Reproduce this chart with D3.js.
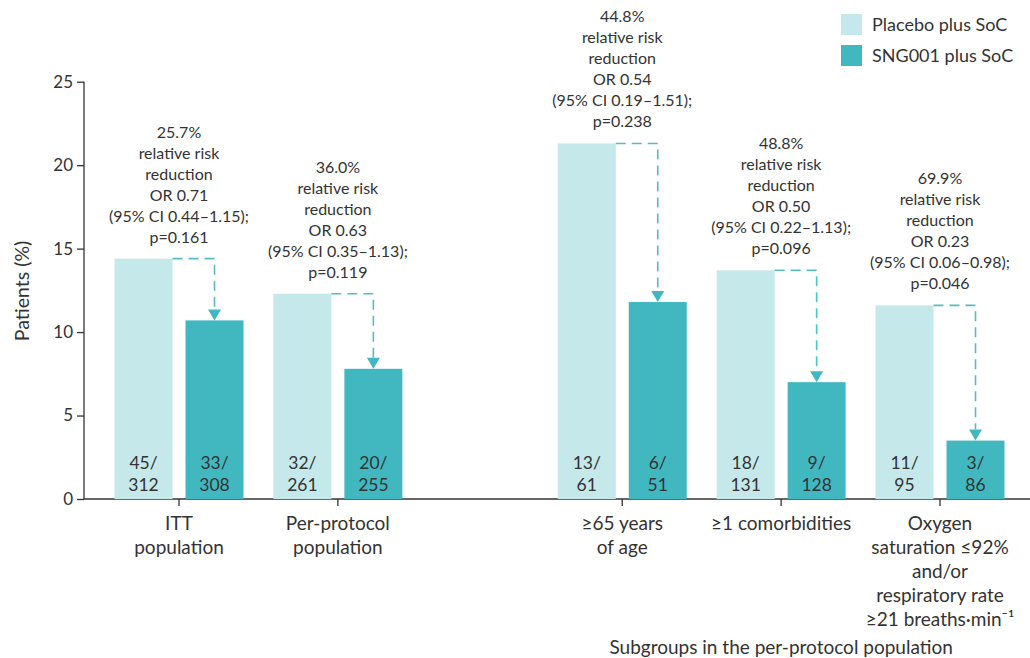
<!DOCTYPE html>
<html><head><meta charset="utf-8">
<script src="https://cdn.jsdelivr.net/npm/d3@7"></script>
<style>
html,body{margin:0;padding:0;background:#fff;}
svg{display:block;font-family:"Lato","Noto Sans",sans-serif;}
</style></head>
<body><svg id="c" width="1030" height="658"></svg>
<script>
// ---- data ----
const categories = [["ITT","population"],["Per-protocol","population"],["\u226565 years","of age"],["\u22651 comorbidities"],["Oxygen","saturation \u226492%","and/or","respiratory rate","\u226521 breaths\u00b7min\u207b\u00b9"]];
const placebo = [14.4, 12.3, 21.3, 13.7, 11.6];
const sng = [10.7, 7.8, 11.8, 7.0, 3.5];
const placeboCounts = [["45/","312"],["32/","261"],["13/","61"],["18/","131"],["11/","95"]];
const sngCounts = [["33/","308"],["20/","255"],["6/","51"],["9/","128"],["3/","86"]];
const rrr = ["25.7%","36.0%","44.8%","48.8%","69.9%"];
const orVals = ["OR 0.71","OR 0.63","OR 0.54","OR 0.50","OR 0.23"];
const ciVals = ["(95% CI 0.44\u20131.15);","(95% CI 0.35\u20131.13);","(95% CI 0.19\u20131.51);","(95% CI 0.22\u20131.13);","(95% CI 0.06\u20130.98);"];
const pVals = ["p=0.161","p=0.119","p=0.238","p=0.096","p=0.046"];
const yTicks = [0,5,10,15,20,25];
const seriesNames = ["Placebo plus SoC","SNG001 plus SoC"];
const colors = ["#c5e8ea","#41b8c0"];
const subgroupTitle = "Subgroups in the per-protocol population";

const svg = d3.select("#c");
const textCol = "#333";
const y = d3.scaleLinear().domain([0,25]).range([499, 81.7]);
const slot = i => i + (i >= 2 ? 0.79 : 0);
const x = d3.scaleLinear().domain([0, slot(4)]).range([179, 940]);
const bw = 58, off = 35.5;

// y axis
const ya = svg.append("g").attr("transform","translate(84,0)")
  .call(d3.axisLeft(y).tickValues(yTicks).tickSize(7).tickPadding(4));
ya.select(".domain").attr("stroke","#333").attr("stroke-width",1.3).attr("d","M0,"+y(25)+"V"+y(0));
ya.selectAll(".tick line").attr("stroke","#333").attr("stroke-width",1.3);
ya.selectAll(".tick text").attr("font-size",17).attr("fill",textCol).attr("font-family","Lato,'Noto Sans',sans-serif");

// x axis line
svg.append("line").attr("x1",84).attr("x2",1030).attr("y1",y(0)).attr("y2",y(0)).attr("stroke","#333").attr("stroke-width",1.3);
categories.forEach((c,i)=>{
  const cx = x(slot(i));
  svg.append("line").attr("x1",cx).attr("x2",cx).attr("y1",y(0)).attr("y2",y(0)+7).attr("stroke","#333").attr("stroke-width",1.3);
  const t = svg.append("text").attr("text-anchor","middle").attr("font-size",19).attr("fill",textCol);
  c.forEach((line,j)=> t.append("tspan").attr("x",cx).attr("y",530+j*24).text(line));
});

// bars
const groups = d3.range(5);
svg.selectAll("rect.p").data(groups).join("rect").attr("class","p")
  .attr("x",i=>x(slot(i))-off-bw/2).attr("width",bw)
  .attr("y",i=>y(placebo[i])).attr("height",i=>y(0)-y(placebo[i])).attr("fill",colors[0]);
svg.selectAll("rect.s").data(groups).join("rect").attr("class","s")
  .attr("x",i=>x(slot(i))+off-bw/2).attr("width",bw)
  .attr("y",i=>y(sng[i])).attr("height",i=>y(0)-y(sng[i])).attr("fill",colors[1]);

// counts inside bars
groups.forEach(i=>{
  [[placeboCounts[i], -off],[sngCounts[i], off]].forEach(([cnt,o])=>{
    const t = svg.append("text").attr("text-anchor","middle").attr("font-size",17.5).attr("fill",textCol);
    t.append("tspan").attr("x",x(slot(i))+o).attr("y",469).text(cnt[0]);
    t.append("tspan").attr("x",x(slot(i))+o).attr("y",491).text(cnt[1]);
  });
});

// arrows & annotations
const dashCol = "#52bdc4";
groups.forEach(i=>{
  const cx = x(slot(i));
  const x0 = cx - off + bw/2, x1 = cx + off;
  const yTop = y(placebo[i]), yEnd = y(sng[i]);
  svg.append("path").attr("d",`M${x0},${yTop}H${x1}V${yEnd-11}`)
    .attr("fill","none").attr("stroke",dashCol).attr("stroke-width",1.6).attr("stroke-dasharray","10,6");
  svg.append("path").attr("d",`M${x1-6.5},${yEnd-11}L${x1+6.5},${yEnd-11}L${x1},${yEnd}Z`).attr("fill",colors[1]);
  const lines = [rrr[i],"relative risk","reduction",orVals[i],ciVals[i],pVals[i]];
  const t = svg.append("text").attr("text-anchor","middle").attr("font-size",16).attr("fill",textCol);
  lines.forEach((l,j)=> t.append("tspan").attr("x",cx).attr("y",yTop-16-(5-j)*21).text(l));
});

// y label
svg.append("text").attr("transform","translate(29,291) rotate(-90)").attr("text-anchor","middle")
  .attr("font-size",19.5).attr("fill",textCol).text("Patients (%)");

// subgroup title
svg.append("text").attr("x",x(slot(3))).attr("y",654).attr("text-anchor","middle")
  .attr("font-size",19).attr("fill",textCol).text(subgroupTitle);

// legend
seriesNames.forEach((n,k)=>{
  svg.append("rect").attr("x",841).attr("y",14+k*31).attr("width",21).attr("height",21).attr("fill",colors[k]);
  svg.append("text").attr("x",872).attr("y",31+k*31).attr("font-size",18).attr("fill",textCol).text(n);
});
</script></body></html>
